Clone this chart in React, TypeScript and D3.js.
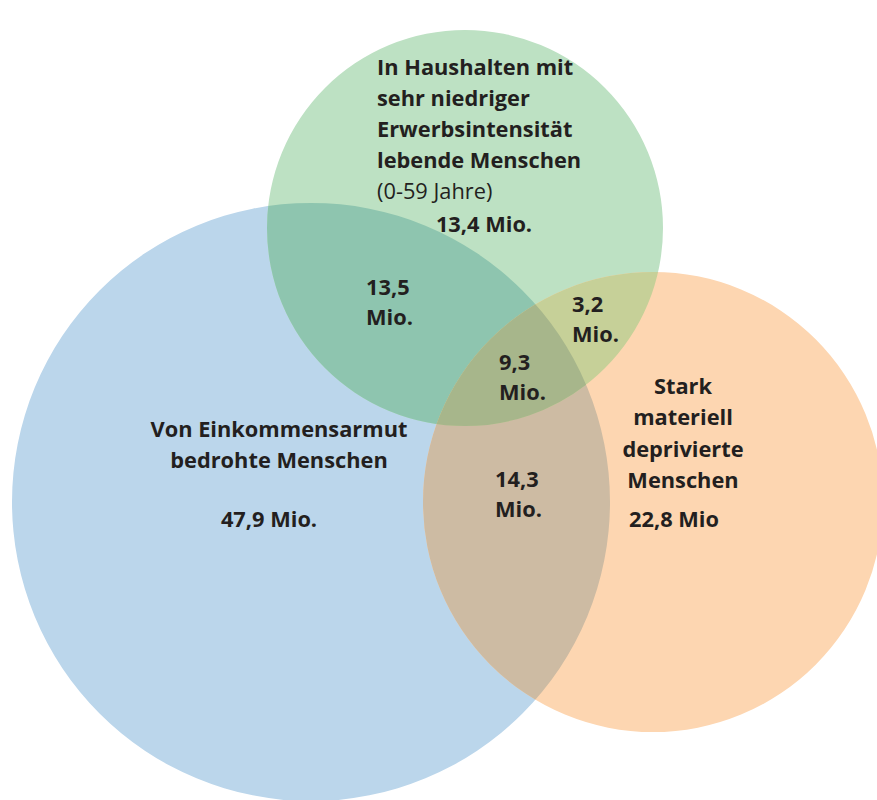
import React from "react";
import * as d3 from "d3";

// ---- data ----
const setNames = ["Einkommensarmut", "Erwerbsintensität", "Deprivation"];
const setLabels = [
  ["Von Einkommensarmut", "bedrohte Menschen"],
  ["In Haushalten mit", "sehr niedriger", "Erwerbsintensität", "lebende Menschen"],
  ["Stark", "materiell", "deprivierte", "Menschen"],
];
const setSubLabels = ["", "(0-59 Jahre)", ""];
const setValues = ["47,9 Mio.", "13,4 Mio.", "22,8 Mio"];
const overlapKeys = ["A∩B", "B∩C", "A∩B∩C", "A∩C"];
const overlapValues = ["13,5", "3,2", "9,3", "14,3"];
const overlapUnit = "Mio.";

// ---- layout (geometry, not data) ----
const W = 877;
const H = 800;
const circles = [
  { cx: 311, cy: 502, r: 299, fill: "#BBD6EB" },
  { cx: 465, cy: 228, r: 198, fill: "#BDE1C3" },
  { cx: 653, cy: 502, r: 230, fill: "#FDD6B1" },
];
const pairFill: Record<string, string> = {
  "0-1": "#8EC5AF",
  "1-2": "#C6D098",
  "0-2": "#CDBBA3",
};
const tripleFill = "#A7B68B";

const circlePath = (c: { cx: number; cy: number; r: number }) => {
  const p = d3.path();
  p.moveTo(c.cx + c.r, c.cy);
  p.arc(c.cx, c.cy, c.r, 0, Math.PI * 2);
  p.closePath();
  return p.toString();
};

const FONT = "'Open Sans', Lato, sans-serif";
const TXT = "#231F20";

export default function App() {
  const fs = 21.8;
  return (
    <svg
      width={W}
      height={H}
      viewBox={`0 0 ${W} ${H}`}
      style={{ position: "absolute", left: 0, top: 0, background: "#fff" }}
      fontFamily={FONT}
    >
      <defs>
        {circles.map((c, i) => (
          <clipPath id={`clip${i}`} key={i}>
            <path d={circlePath(c)} />
          </clipPath>
        ))}
        <clipPath id="clip01" clipPath="url(#clip0)">
          <path d={circlePath(circles[1])} />
        </clipPath>
      </defs>
      <rect x={0} y={0} width={W} height={H} fill="#fff" />
      {circles.map((c, i) => (
        <path key={setNames[i]} d={circlePath(c)} fill={c.fill} />
      ))}
      {/* pairwise overlaps */}
      <g clipPath="url(#clip0)">
        <path d={circlePath(circles[1])} fill={pairFill["0-1"]} />
      </g>
      <g clipPath="url(#clip0)">
        <path d={circlePath(circles[2])} fill={pairFill["0-2"]} />
      </g>
      <g clipPath="url(#clip1)">
        <path d={circlePath(circles[2])} fill={pairFill["1-2"]} />
      </g>
      {/* triple overlap */}
      <g clipPath="url(#clip01)">
        <path d={circlePath(circles[2])} fill={tripleFill} />
      </g>

      <g fill={TXT} fontSize={fs} fontWeight="bold">
        {/* green set label */}
        {setLabels[1].map((t, i) => (
          <text key={t} x={377} y={75 + i * 31}>
            {t}
          </text>
        ))}
        <text x={377} y={199} fontWeight="normal">
          {setSubLabels[1]}
        </text>
        <text x={484} y={232} textAnchor="middle">
          {setValues[1]}
        </text>

        {/* blue set label */}
        {setLabels[0].map((t, i) => (
          <text key={t} x={279} y={437 + i * 31} textAnchor="middle">
            {t}
          </text>
        ))}
        <text x={269} y={527} textAnchor="middle">
          {setValues[0]}
        </text>

        {/* orange set label */}
        {setLabels[2].map((t, i) => (
          <text key={t} x={683} y={394 + i * 31.3} textAnchor="middle">
            {t}
          </text>
        ))}
        <text x={629} y={527}>
          {setValues[2]}
        </text>

        {/* overlaps */}
        {overlapKeys.map((k, i) => {
          const pos = [
            [366, 295],
            [572, 312],
            [499, 370],
            [495, 487],
          ][i];
          return (
            <g key={k}>
              <text x={pos[0]} y={pos[1]}>
                {overlapValues[i]}
              </text>
              <text x={pos[0]} y={pos[1] + 30}>
                {overlapUnit}
              </text>
            </g>
          );
        })}
      </g>
    </svg>
  );
}
